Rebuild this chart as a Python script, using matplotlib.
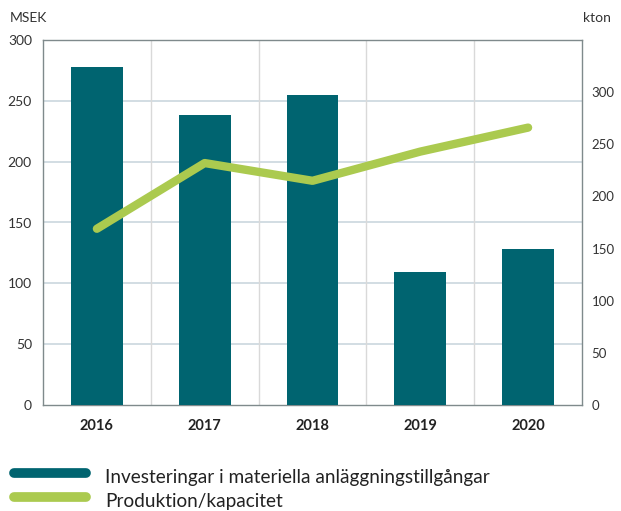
import matplotlib.pyplot as plt
import numpy as np
from matplotlib.lines import Line2D

# data
years = ["2016", "2017", "2018", "2019", "2020"]
invest_msek = [278, 238, 255, 109, 128]
prod_kton = [169, 232, 215, 243, 266]

left_ticks = [0, 50, 100, 150, 200, 250, 300]
right_ticks = [0, 50, 100, 150, 200, 250, 300]

bar_color = "#006470"
line_color = "#abca4f"

plt.rcParams["font.family"] = ["Lato", "DejaVu Sans"]

fig = plt.figure(figsize=(6.21, 5.11), dpi=100)
ax = fig.add_axes([43 / 621, 1 - 405 / 511, (582 - 43) / 621, (405 - 40) / 511])
x = np.arange(len(years))

ax.bar(x, invest_msek, width=0.48, color=bar_color, zorder=3)
ax.set_xlim(-0.5, len(years) - 0.5)
ax.set_ylim(0, 300)
ax.set_yticks(left_ticks)
ax.set_xticks(x)
ax.set_xticklabels(years, fontsize=10.5, fontweight="bold", color="#222222")
ax.tick_params(axis="x", length=0, pad=10)
ax.tick_params(axis="y", length=0, pad=8, labelsize=10, labelcolor="#333333")

# grid
for v in left_ticks[1:]:
    ax.axhline(v, color="#cbd7de", lw=1.2, zorder=1)
for b in np.arange(0.5, len(years) - 1, 1):
    ax.axvline(b, color="#d9d9d9", lw=1.0, zorder=1)

for s in ["left", "top", "right", "bottom"]:
    ax.spines[s].set_color("#7f8a8c")
    ax.spines[s].set_linewidth(1.0)

ax2 = ax.twinx()
ax2.plot(x, prod_kton, color=line_color, lw=6, solid_capstyle="round",
         solid_joinstyle="round", zorder=4)
ax2.set_ylim(0, 350)
ax2.set_yticks(right_ticks)
ax2.tick_params(axis="y", length=0, pad=7, labelsize=9.5, labelcolor="#333333")
for s in ax2.spines.values():
    s.set_visible(False)

fig.text(10 / 621, 1 - 18 / 511, "MSEK", fontsize=10, color="#333333", va="center")
fig.text(583 / 621, 1 - 18 / 511, "kton", fontsize=10, color="#333333", va="center")

# legend
for yy, col, lab in [(473, bar_color, "Investeringar i materiella anläggningstillgångar"),
                     (497, line_color, "Produktion/kapacitet")]:
    fig.add_artist(Line2D([14 / 621, 86 / 621], [1 - yy / 511] * 2, color=col, lw=7,
                          solid_capstyle="round"))
    fig.text(105 / 621, 1 - (yy + 4) / 511, lab, fontsize=13.7, color="#222222", va="center")

fig.savefig("out.png", dpi=100)
